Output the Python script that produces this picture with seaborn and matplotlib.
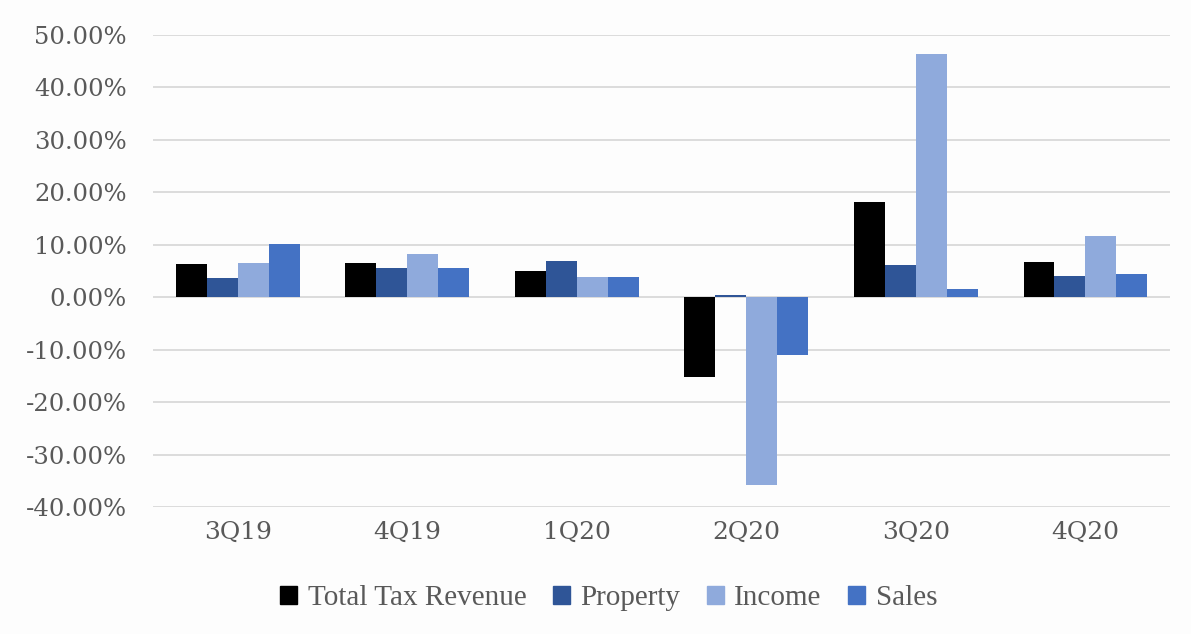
import matplotlib
matplotlib.use("Agg")
import matplotlib.pyplot as plt
import seaborn as sns
import pandas as pd
from matplotlib.ticker import FuncFormatter

quarters = ["3Q19", "4Q19", "1Q20", "2Q20", "3Q20", "4Q20"]
total_tax = [6.4, 6.5, 5.0, -15.3, 18.2, 6.7]
property_tax = [3.6, 5.6, 7.0, 0.5, 6.05, 4.0]
income_tax = [6.6, 8.3, 3.8, -35.8, 46.3, 11.6]
sales_tax = [10.2, 5.6, 3.8, -11.0, 1.6, 4.5]
series_names = ["Total Tax Revenue", "Property", "Income", "Sales"]
colors = ["#000000", "#2F5597", "#8FAADC", "#4472C4"]

rows = []
for name, vals in zip(series_names, [total_tax, property_tax, income_tax, sales_tax]):
    for q, v in zip(quarters, vals):
        rows.append({"Quarter": q, "Series": name, "Value": v})
df = pd.DataFrame(rows)

sns.set_theme(style="white")
plt.rcParams["font.family"] = ["DejaVu Serif"]

fig = plt.figure(figsize=(11.91, 6.34), dpi=100, facecolor="#fdfdfd")
ax = fig.add_axes([0.1285, 0.2003, 0.854, 0.7445])
ax.set_facecolor("#fdfdfd")

sns.barplot(data=df, x="Quarter", y="Value", hue="Series", hue_order=series_names,
            order=quarters, palette=colors, width=0.73, saturation=1,
            edgecolor="none", linewidth=0, ax=ax, zorder=3)

ax.set_ylim(-40, 50)
ax.set_yticks(range(-40, 51, 10))
ax.yaxis.set_major_formatter(FuncFormatter(lambda v, p: f"{v:.2f}%"))
ax.grid(axis="y", color="#d9d9d9", linewidth=1.3, zorder=0)
ax.set_axisbelow(True)
for s in ax.spines.values():
    s.set_visible(False)
ax.set_xlabel("")
ax.set_ylabel("")
ax.tick_params(axis="y", length=0, pad=19, labelsize=17.5, labelcolor="#595959")
ax.tick_params(axis="x", length=0, pad=10, labelsize=18, labelcolor="#595959")

ax.legend_.remove()
handles = [plt.Rectangle((0, 0), 1, 1, color=c) for c in colors]
fig.legend(handles, series_names, loc="center", bbox_to_anchor=(0.511, 0.056), ncol=4,
           frameon=False, handlelength=0.6, handleheight=0.6, handletextpad=0.35,
           columnspacing=0.9, prop={"family": "Liberation Serif", "size": 21},
           labelcolor="#595959")

fig.savefig("out.png", dpi=100, facecolor=fig.get_facecolor())
